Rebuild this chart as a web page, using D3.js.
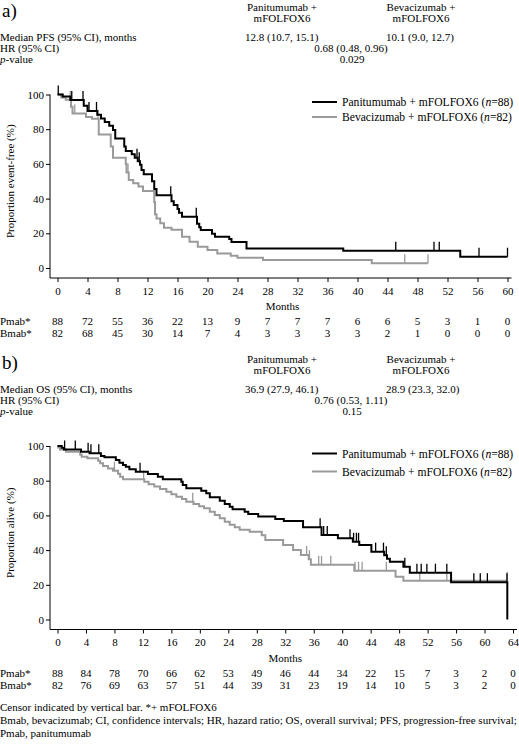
<!DOCTYPE html>
<html><head><meta charset="utf-8">
<script src="https://cdn.jsdelivr.net/npm/d3@7"></script>
<style>
html,body{margin:0;padding:0;background:#fff;}
svg text{font-family:"Liberation Serif","Times New Roman",serif;fill:#000;}
</style></head>
<body><svg id="c" width="519" height="750"></svg>
<script>
// ---------------- DATA ----------------
const pfsMonths = [0,4,8,12,16,20,24,28,32,36,40,44,48,52,56,60];
const pfsRiskPmab = [88,72,55,36,22,13,9,7,7,7,6,6,5,3,1,0];
const pfsRiskBmab = [82,68,45,30,14,7,4,3,3,3,3,2,1,0,0,0];
const osMonths = [0,4,8,12,16,20,24,28,32,36,40,44,48,52,56,60,64];
const osRiskPmab = [88,84,78,70,66,62,53,49,46,44,34,22,15,7,3,2,0];
const osRiskBmab = [82,76,69,63,57,51,44,39,31,23,19,14,10,5,3,2,0];
const yTicks = [0,20,40,60,80,100];

const pfsPmabT = [0,0.7,1.7,3.5,4.0,5.3,5.8,6.3,6.9,7.4,7.7,8.9,9.1,9.9,10.3,10.7,11.0,11.2,11.5,12.6,12.9,13.2,15.2,15.5,16.0,16.2,16.6,18.6,18.9,19.1,20.6,21.0,22.9,23.2,25.2,38.1,53.7,60.0];
const pfsPmabS = [100,98.9,96.8,93.5,90.5,88.3,86.2,84.1,82.0,79.5,74.7,70.0,67.4,65.5,63.5,61.5,59.5,56.5,54.0,50.0,45.5,42.0,38.5,36.3,34.0,31.8,29.6,25.5,23.5,21.9,19.8,18.0,16.7,15.0,11.3,10.0,6.5,6.5];
const pfsPmabCens = [0.1,1.9,3.4,4.2,5.2,10.6,10.9,15.1,18.5,45.1,50.2,50.9,56.2,60.0];

const pfsBmabT = [0,0.5,1.1,1.8,2.0,3.8,4.6,5.5,7.1,7.4,9.1,9.2,9.5,10.1,10.8,11.4,12.9,13.0,13.2,13.7,14.2,15.2,16.6,17.6,18.7,20.0,21.3,23.1,24.0,27.4,41.9,49.4];
const pfsBmabS = [100,98.3,97.0,93.0,89.0,87.0,86.0,77.0,70.0,63.6,60.0,55.0,50.7,48.8,47.0,44.4,38.0,31.0,28.6,25.8,23.2,22.0,18.0,15.2,12.3,10.4,8.4,7.1,5.9,4.6,2.7,2.7];
const pfsBmabCens = [1.7,2.3,5.4,9.4,46.3,49.4];

const osPmabT = [0,0.6,0.9,3.3,4.5,6.1,6.6,8.2,8.7,9.2,9.6,10.1,11.0,12.7,14.1,14.8,17.4,17.6,18.1,20.2,20.9,21.4,22.8,23.5,24.2,24.6,26.3,26.8,28.2,30.6,31.8,34.5,37.1,39.4,41.5,42.4,44.1,45.9,46.3,46.7,48.6,49.5,55.3,63.2];
const osPmabS = [100,99.0,98.0,96.7,95.8,94.2,93.5,91.9,90.4,89.0,88.0,86.6,85.2,83.9,82.3,80.8,79.4,77.5,75.6,74.2,72.7,70.4,68.5,66.6,65.0,63.5,62.1,60.8,59.3,57.9,56.8,53.1,48.7,46.8,44.8,42.9,39.1,37.0,35.0,33.3,30.4,27.0,21.5,0];
const osPmabCens = [1.0,2.5,4.3,4.7,5.8,11.6,36.9,37.4,37.9,41.1,41.6,42.0,42.3,44.7,45.8,46.2,48.8,50.5,51.1,51.9,53.1,54.7,58.5,59.4,60.4,63.15];

const osBmabT = [0,0.1,0.35,1.2,3.2,3.4,4.2,5.7,6.0,6.4,7.1,7.8,8.5,8.8,9.2,12.2,12.8,13.6,14.4,15.3,16.0,16.7,17.5,18.1,19.1,19.9,20.6,21.4,22.1,22.8,23.5,24.2,24.9,25.6,27.0,28.7,29.2,31.7,33.1,34.2,35.3,35.6,41.7,47.5,48.6,63.2];
const osBmabS = [100,99.2,98.0,96.7,95.0,93.8,92.9,91.5,90.0,88.5,87.1,85.8,84.0,82.3,80.8,79.4,78.0,76.6,75.2,73.7,72.2,70.8,69.4,67.9,66.6,65.3,64.1,62.1,60.2,58.3,56.4,54.6,53.1,51.8,50.6,48.5,45.8,42.9,40.1,37.2,34.7,31.5,28.1,24.7,22.4,22.4];
const osBmabCens = [8.0,12.1,19.0,35.0,35.4,36.7,37.1,38.4,41.8,42.3,42.8,46.2,50.9,54.7,63.2];

// ---------------- DRAW ----------------
const svg = d3.select("#c");
const BLACK = "#000", GRAY = "#9a9a9a";
const FS = 11;

function txt(g, x, y, s, anchor, size){
  return g.append("text").attr("x", x).attr("y", y).attr("text-anchor", anchor || "start")
    .style("font-size", (size||FS) + "px").text(s);
}

function panel(cfg){
  const g = svg.append("g").attr("transform", `translate(0,${cfg.dy})`);
  // header
  txt(g, 2, 17, cfg.letter, "start", 19);
  txt(g, 282, 11, "Panitumumab +", "middle");
  txt(g, 282, 22, "mFOLFOX6", "middle");
  txt(g, 421, 11, "Bevacizumab +", "middle");
  txt(g, 421, 22, "mFOLFOX6", "middle");
  txt(g, 0, 41, cfg.medLabel);
  txt(g, 245, 41, cfg.medP);
  txt(g, 386, 41, cfg.medB);
  txt(g, 0, 52, "HR (95% CI)");
  txt(g, 351, 52, cfg.hr, "middle");
  const pv = g.append("text").attr("x", 0).attr("y", 63).style("font-size", FS+"px");
  pv.append("tspan").style("font-style","italic").text("p");
  pv.append("tspan").text("-value");
  txt(g, 352, 63, cfg.p, "middle");

  const x = d3.scaleLinear().domain([0, cfg.xMax]).range([57.5, cfg.xEnd]);
  const y = d3.scaleLinear().domain([0, 100]).range([268, 94.5]);
  const axisY = 278;

  // axes
  const xa = g.append("g").attr("transform", `translate(0,${axisY})`)
    .call(d3.axisBottom(x).tickValues(cfg.months).tickSize(4).tickPadding(5).tickSizeOuter(0));
  xa.select(".domain").remove();
  xa.selectAll("text").style("font-size", FS+"px").style("font-family", '"Liberation Serif",serif');
  g.append("line").attr("x1", 50).attr("x2", x(cfg.xMax) + 4).attr("y1", axisY).attr("y2", axisY)
    .attr("stroke", "#000").attr("stroke-width", 1);
  const ya = g.append("g").attr("transform", "translate(50,0)")
    .call(d3.axisLeft(y).tickValues(yTicks).tickSize(4).tickPadding(2).tickSizeOuter(0));
  ya.select(".domain").remove();
  ya.selectAll("text").style("font-size", FS+"px").style("font-family", '"Liberation Serif",serif');
  g.append("line").attr("x1", 50).attr("x2", 50).attr("y1", y(100)).attr("y2", axisY)
    .attr("stroke", "#000").attr("stroke-width", 1);
  g.selectAll(".tick line").attr("stroke", "#000");

  txt(g, 0, 0, cfg.yTitle, "middle").attr("transform", `translate(14,${(y(0)+y(100))/2}) rotate(-90)`)
    .attr("x", 0).attr("y", 0);
  txt(g, x(cfg.xMax/2), 310, "Months", "middle");

  // curves
  const line = d3.line().x(d => x(d[0])).y(d => y(d[1])).curve(d3.curveStepAfter);
  function curve(T, S, C, color){
    const pts = T.map((t, i) => [t, S[i]]);
    g.append("path").attr("d", line(pts)).attr("fill", "none").attr("stroke", color)
      .attr("stroke-width", 2);
    const lvl = t => { let v = S[0]; for (let i = 0; i < T.length; i++) { if (T[i] <= t) v = S[i]; } return v; };
    C.forEach(t => {
      g.append("line").attr("x1", x(t)).attr("x2", x(t)).attr("y1", y(lvl(t))).attr("y2", y(lvl(t)) - 9)
        .attr("stroke", color).attr("stroke-width", 1.3);
    });
  }
  curve(cfg.bT, cfg.bS, cfg.bC, GRAY);
  curve(cfg.pT, cfg.pS, cfg.pC, BLACK);

  // legend
  const leg = [["Panitumumab + mFOLFOX6 (", "88", BLACK, cfg.legY[0]], ["Bevacizumab + mFOLFOX6 (", "82", GRAY, cfg.legY[1]]];
  leg.forEach(l => {
    g.append("line").attr("x1", 312).attr("x2", 337).attr("y1", l[3]).attr("y2", l[3])
      .attr("stroke", l[2]).attr("stroke-width", 2);
    const t = g.append("text").attr("x", 342).attr("y", l[3] + 4).style("font-size", "11.6px");
    t.append("tspan").text(l[0]);
    t.append("tspan").style("font-style", "italic").text("n");
    t.append("tspan").text("=" + l[1] + ")");
  });

  // risk table
  txt(g, 0, 325, "Pmab*");
  txt(g, 0, 337, "Bmab*");
  cfg.months.forEach((m, i) => {
    txt(g, x(m), 325, String(cfg.riskP[i]), "middle");
    txt(g, x(m), 337, String(cfg.riskB[i]), "middle");
  });
}

panel({dy: 0, letter: "a)", medLabel: "Median PFS (95% CI), months", medP: "12.8 (10.7, 15.1)", medB: "10.1 (9.0, 12.7)",
  hr: "0.68 (0.48, 0.96)", p: "0.029", xMax: 60, xEnd: 507.5, months: pfsMonths,
  yTitle: "Proportion event-free (%)", pT: pfsPmabT, pS: pfsPmabS, pC: pfsPmabCens,
  bT: pfsBmabT, bS: pfsBmabS, bC: pfsBmabCens, riskP: pfsRiskPmab, riskB: pfsRiskBmab, legY: [102, 117]});

panel({dy: 351.5, letter: "b)", medLabel: "Median OS (95% CI), months", medP: "36.9 (27.9, 46.1)", medB: "28.9 (23.3, 32.0)",
  hr: "0.76 (0.53, 1.11)", p: "0.15", xMax: 64, xEnd: 513, months: osMonths,
  yTitle: "Proportion alive (%)", pT: osPmabT, pS: osPmabS, pC: osPmabCens,
  bT: osBmabT, bS: osBmabS, bC: osBmabCens, riskP: osRiskPmab, riskB: osRiskBmab, legY: [102, 120]});

// footnotes
txt(svg, 0, 711, "Censor indicated by vertical bar. *+ mFOLFOX6");
txt(svg, 0, 724, "Bmab, bevacizumab; CI,  confidence intervals; HR, hazard ratio; OS, overall survival; PFS, progression-free survival;");
txt(svg, 0, 737, "Pmab, panitumumab");
</script></body></html>
